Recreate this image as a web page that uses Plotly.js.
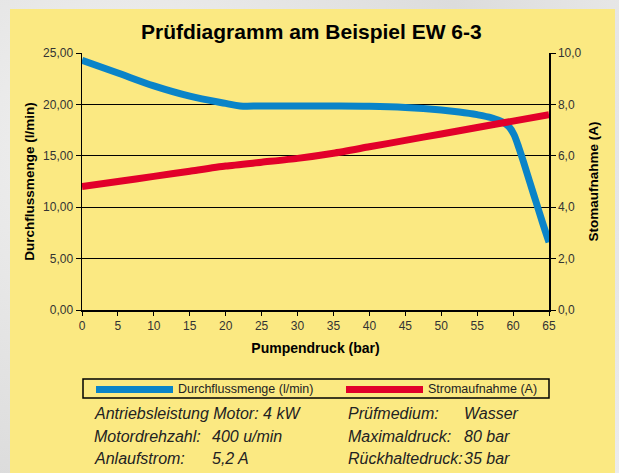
<!DOCTYPE html>
<html><head><meta charset="utf-8">
<script src="https://cdn.plot.ly/plotly-3.0.1.min.js"></script>
<style>
html,body{margin:0;padding:0;background:#e6e6e6;}
#wrap{position:relative;width:619px;height:473px;overflow:hidden;
 background:radial-gradient(circle at 20% 30%,#f2f2f2,#dcdcdc 60%,#ececec);}
#panel{position:absolute;left:10px;top:9px;width:605px;height:464px;background:#FBE982;}
#chart{position:absolute;left:0;top:0;width:619px;height:473px;}
</style></head>
<body><div id="wrap"><div id="panel"></div><div id="chart"></div></div>
<script>
// Data
const flowX = [0, 5, 10, 15, 20, 22, 25, 30, 35, 40, 45, 50, 52.5, 55, 57, 58.5, 59.4, 60.1, 60.8, 61.5, 62.3, 63.2, 64.1, 65];
const flowY = [24.3, 23.05, 21.8, 20.8, 20.1, 19.85, 19.85, 19.85, 19.85, 19.82, 19.7, 19.45, 19.26, 19.0, 18.7, 18.3, 17.85, 17.1, 15.8, 14.3, 12.5, 10.5, 8.5, 6.6];
const currX = [0, 5, 10, 15, 20, 25, 30, 35, 40, 45, 50, 55, 60, 65];
const currY = [4.8, 5.0, 5.2, 5.4, 5.6, 5.75, 5.9, 6.1, 6.35, 6.6, 6.85, 7.1, 7.35, 7.6];
const xTicks = [0,5,10,15,20,25,30,35,40,45,50,55,60,65];
const titleText = 'Prüfdiagramm am Beispiel EW 6-3';
const seriesNames = ['Durchflussmenge (l/min)', 'Stromaufnahme (A)'];
const infoLeft = [['Antriebsleistung Motor: 4 kW',''],['Motordrehzahl:','400 u/min'],['Anlaufstrom:','5,2 A']];
const infoRight = [['Prüfmedium:','Wasser'],['Maximaldruck:','80 bar'],['Rückhaltedruck:','35 bar']];

const L=82, R=549, T=53, B=310;
const px = x => (x-L)/(R-L);
const py = y => (B-y)/(B-T);
const BLUE='#0A84C8', RED='#E2002A';
const font='"Liberation Sans", Arial, Helvetica, sans-serif';

const traces = [
 {x:flowX, y:flowY, type:'scatter', mode:'lines', name:seriesNames[0],
  line:{color:BLUE, width:7, shape:'spline', smoothing:1}, yaxis:'y', hoverinfo:'skip'},
 {x:currX, y:currY, type:'scatter', mode:'lines', name:seriesNames[1],
  line:{color:RED, width:7, shape:'spline', smoothing:0.6}, yaxis:'y2', hoverinfo:'skip'}
];

const ann = [];
const shapes = [];
shapes.push({type:'rect', xref:'paper', yref:'paper', x0:px(83), x1:px(549), y0:py(379), y1:py(398), line:{color:'#000', width:1.5}, fillcolor:'rgba(0,0,0,0)'});
shapes.push({type:'line', xref:'paper', yref:'paper', x0:px(96), x1:px(173), y0:py(389.5), y1:py(389.5), line:{color:BLUE, width:7}});
shapes.push({type:'line', xref:'paper', yref:'paper', x0:px(346), x1:px(423), y0:py(389.5), y1:py(389.5), line:{color:RED, width:7}});
ann.push({xref:'paper', yref:'paper', x:px(178), y:py(389), text:seriesNames[0], showarrow:false, xanchor:'left', yanchor:'middle', xshift:-2, font:{family:font, size:12.5, color:'#222'}});
ann.push({xref:'paper', yref:'paper', x:px(428), y:py(389), text:seriesNames[1], showarrow:false, xanchor:'left', yanchor:'middle', xshift:-2, font:{family:font, size:12.5, color:'#222'}});
const rowsY=[413,436,458];
function info(rows, x1, x2){
 rows.forEach((r,i)=>{
  ann.push({xref:'paper', yref:'paper', x:px(x1), y:py(rowsY[i]), text:r[0], showarrow:false, xanchor:'left', yanchor:'middle', xshift:-2, font:{family:font, size:16, color:'#222', style:'italic'}});
  if(r[1]) ann.push({xref:'paper', yref:'paper', x:px(x2), y:py(rowsY[i]), text:r[1], showarrow:false, xanchor:'left', yanchor:'middle', xshift:-2, font:{family:font, size:16, color:'#222', style:'italic'}});
 });
}
info(infoLeft, 94, 212);
info(infoRight, 348, 464);

const layout = {
 width:619, height:473,
 margin:{l:L, r:619-R, t:T, b:473-B},
 paper_bgcolor:'rgba(0,0,0,0)', plot_bgcolor:'rgba(0,0,0,0)',
 showlegend:false,
 separators:',.',
 title:{text:'<b>'+titleText+'</b>', x:0.503, xanchor:'center', y:0.933, yanchor:'middle', font:{family:font, size:21, color:'#000'}},
 xaxis:{range:[0,65], tickvals:xTicks, ticks:'outside', ticklen:4, tickcolor:'#000', showline:true, linecolor:'#000', linewidth:1.5,
   showgrid:false, zeroline:false, tickfont:{family:font, size:12, color:'#333'},
   title:{text:'<b>Pumpendruck (bar)</b>', font:{family:font, size:14, color:'#000'}, standoff:11}},
 yaxis:{range:[0,25], dtick:5, tickformat:'.2f', ticks:'outside', ticklen:5, tickcolor:'#000', showline:true, linecolor:'#000', linewidth:1.5,
   showgrid:true, gridcolor:'#000', gridwidth:1, zeroline:false, tickfont:{family:font, size:12, color:'#333'},
   title:{text:'<b>Durchflussmenge (l/min)</b>', font:{family:font, size:13.5, color:'#000'}, standoff:5}},
 yaxis2:{range:[0,10], dtick:2, tickformat:'.1f', overlaying:'y', side:'right', ticks:'outside', ticklen:5, tickcolor:'#000', showline:true, linecolor:'#000', linewidth:1.5,
   showgrid:false, zeroline:false, tickfont:{family:font, size:12, color:'#333'},
   title:{text:'<b>Stomaufnahme (A)</b>', font:{family:font, size:13.5, color:'#000'}, standoff:8}},
 shapes:shapes, annotations:ann
};
Plotly.newPlot('chart', traces, layout, {displayModeBar:false, staticPlot:true});
</script></body></html>
